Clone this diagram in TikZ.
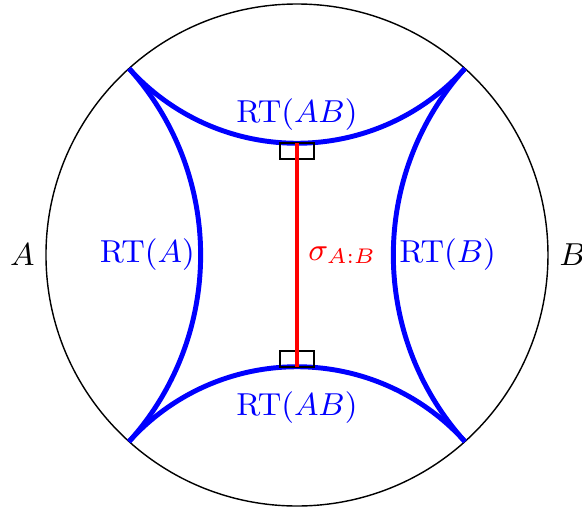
\documentclass[tikz,border=0pt]{standalone}
\usepackage{xcolor}
\usepackage{tikz}
\usetikzlibrary{calc,positioning}
\definecolor{rtCol}{HTML}{0000FF}
\definecolor{ewCol}{HTML}{FF0000}
\newcommand{\Rad}{2.5}
\tikzset{
  bdry/.style={line width=0.4pt, black},
  geod/.style={line width=1.4pt, rtCol},
  ewcs/.style={line width=1.2pt, ewCol},
  rtang/.style={line width=0.5pt, black},
  rtlbl/.style={font=\small, text=rtCol, inner sep=1.5pt},
  reglbl/.style={font=\small, inner sep=3pt},
}
\begin{document}
\begin{tikzpicture}
  \useasboundingbox (-2.958,-2.55) rectangle (2.839,2.54);
  % boundary of the disk
  \draw[bdry] (0,0) circle[radius=\Rad];
  \coordinate (tl) at (132:\Rad);
  \coordinate (tr) at (48:\Rad);
  \coordinate (bl) at (228:\Rad);
  \coordinate (br) at (312:\Rad);
  \coordinate (tm) at (0,1.113);
  \coordinate (bm) at (0,-1.113);
  \coordinate (lm) at (-0.959,0);
  \coordinate (rm) at (0.959,0);

  % RT surfaces (geodesics orthogonal to the boundary)
  \draw[geod] (tl) arc[start angle=222, end angle=318, radius=2.251];
  \draw[geod] (bl) arc[start angle=138, end angle=42, radius=2.251];
  \draw[geod] (tl) arc[start angle=42, end angle=-42, radius=2.777];
  \draw[geod] (tr) arc[start angle=138, end angle=222, radius=2.777];

  % entanglement wedge cross section
  \draw[rtang] ($(tm)+(-0.17,0)$) rectangle ($(tm)+(0.17,-0.16)$);
  \draw[rtang] ($(bm)+(-0.17,0)$) rectangle ($(bm)+(0.17,0.16)$);
  \draw[ewcs] (tm) -- (bm);

  \node[rtlbl, above=2pt of tm] (lblAB1) {RT$(AB)$};
  \node[rtlbl, below=5.5pt of bm] (lblAB2) {RT$(AB)$};
  \node[rtlbl, anchor=east] (lblA) at (lm) {RT$(A)$};
  \node[rtlbl, anchor=west] (lblB) at (rm) {RT$(B)$};
  \node[rtlbl, text=ewCol, anchor=west, inner sep=3pt] (lblsig) at (0,0) {$\sigma_{A:B}$};
  \node[reglbl, left] (regA) at (180:\Rad) {$A$};
  \node[reglbl, right] (regB) at (0:\Rad) {$B$};
\end{tikzpicture}
\end{document}
